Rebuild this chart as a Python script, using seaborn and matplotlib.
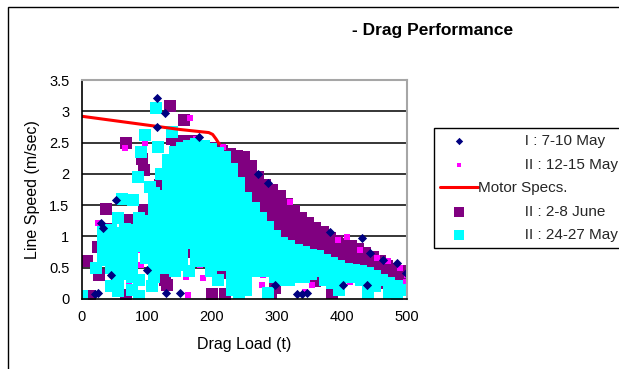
import pandas as pd
import matplotlib
matplotlib.use("Agg")
import matplotlib.pyplot as plt
import seaborn as sns
from matplotlib.patches import Rectangle

# ---- data: (drag load t, line speed m/sec) ----
may_7_10 = [
    (115, 3.21), (128, 2.97), (115, 2.75), (180, 2.59), (52, 1.58), (29, 1.21),
    (32, 1.13), (45, 0.38), (100, 0.47), (20, 0.08), (25, 0.1), (129, 0.1),
    (150, 0.1), (297, 0.22), (331, 0.08), (338, 0.08), (346, 0.1), (271, 2.0),
    (286, 1.85), (381, 1.07), (430, 0.97), (443, 0.73), (463, 0.62), (484, 0.57),
    (498, 0.42), (402, 0.22), (438, 0.22),
]

may_12_15 = [
    (97, 2.49), (66, 2.41), (166, 2.89), (175, 2.55), (217, 2.43), (128, 1.85),
    (25, 1.22), (86, 0.78), (91, 0.55), (72, 0.2), (151, 0.67), (160, 0.35),
    (163, 0.06), (174, 0.59), (182, 0.54), (186, 0.34), (277, 0.22), (278, 0.38),
    (320, 1.55), (343, 0.11), (354, 0.22), (394, 0.94), (407, 0.99), (402, 0.3),
    (412, 0.27), (428, 0.78), (454, 0.65), (470, 0.6), (486, 0.25), (489, 0.5),
    (498, 0.27), (500, 0.38),
]

motor_load = [0, 50, 100, 150, 195, 201, 206, 211]
motor_speed = [2.92, 2.85, 2.78, 2.71, 2.66, 2.63, 2.56, 2.48]

june_2_8 = [
    # scattered
    (135, 3.08), (157, 2.86), (68, 2.5), (139, 2.55), (152, 2.52), (168, 2.52),
    (145, 2.42), (92, 2.23), (95, 2.06), (120, 1.82), (37, 1.44), (40, 1.12),
    (72, 1.27), (82, 1.25), (95, 1.42), (25, 0.83), (7, 0.6), (26, 0.38),
    (12, 0.05), (68, 0.06), (127, 0.3), (130, 0.22), (166, 0.75), (215, 0.42),
    (200, 0.08), (220, 0.08), (290, 0.1), (297, 0.18), (358, 0.28), (385, 0.1),
    # upper band
    (205, 2.38), (205, 2.42),
    (216, 2.28), (216, 2.37),
    (227, 2.1), (227, 2.25), (227, 2.32),
    (238, 1.9), (238, 2.05), (238, 2.2), (238, 2.28),
    (249, 1.7), (249, 1.85), (249, 2.0), (249, 2.15), (249, 2.27),
    (260, 1.5), (260, 1.65), (260, 1.8), (260, 1.95), (260, 2.12),
    (271, 1.35), (271, 1.5), (271, 1.65), (271, 1.8), (271, 1.95),
    (282, 1.15), (282, 1.3), (282, 1.45), (282, 1.6), (282, 1.75), (282, 1.82),
    (293, 1.0), (293, 1.15), (293, 1.3), (293, 1.45), (293, 1.6), (293, 1.74),
    (304, 0.9), (304, 1.05), (304, 1.2), (304, 1.35), (304, 1.5), (304, 1.64),
    (315, 0.8), (315, 0.95), (315, 1.1), (315, 1.25), (315, 1.4), (315, 1.52),
    (326, 0.75), (326, 0.9), (326, 1.05), (326, 1.2), (326, 1.32), (326, 1.4),
    (337, 0.7), (337, 0.85), (337, 1.0), (337, 1.15), (337, 1.29),
    (348, 0.65), (348, 0.8), (348, 0.95), (348, 1.1), (348, 1.22),
    (359, 0.6), (359, 0.75), (359, 0.9), (359, 1.05), (359, 1.14),
    (370, 0.55), (370, 0.7), (370, 0.85), (370, 1.0), (370, 1.07),
    (381, 0.5), (381, 0.65), (381, 0.8), (381, 0.98),
    (392, 0.45), (392, 0.6), (392, 0.75), (392, 0.92),
    (403, 0.45), (403, 0.6), (403, 0.75), (403, 0.88),
    (414, 0.4), (414, 0.55), (414, 0.7), (414, 0.84),
    (425, 0.4), (425, 0.55), (425, 0.7), (425, 0.8),
    (436, 0.35), (436, 0.5), (436, 0.65), (436, 0.74),
    (447, 0.3), (447, 0.45), (447, 0.6), (447, 0.67),
    (458, 0.3), (458, 0.45), (458, 0.6),
    (469, 0.25), (469, 0.4), (469, 0.53),
    (480, 0.2), (480, 0.35), (480, 0.48),
    (491, 0.2), (491, 0.32), (491, 0.44),
]

may_24_27 = [
    # scattered upper left
    (114, 3.05), (97, 2.62), (91, 2.35), (86, 1.95), (117, 2.43), (138, 2.67),
    (105, 1.79), (62, 1.6), (78, 1.58),
    # left cluster
    (0, 0.05), (22, 0.5),
    (33, 0.62), (33, 0.77), (33, 0.92), (33, 1.07),
    (44, 0.2), (44, 0.5), (44, 0.65), (44, 0.8), (44, 0.95), (44, 1.1),
    (55, 0.12), (55, 0.3), (55, 0.45), (55, 0.6), (55, 0.75), (55, 0.9), (55, 1.05), (55, 1.3),
    (66, 0.4), (66, 0.55), (66, 0.7), (66, 0.85), (66, 1.0), (66, 1.12),
    (77, 0.15), (77, 0.35), (77, 0.5), (77, 0.65), (77, 0.8), (77, 0.95), (77, 1.1),
    (88, 0.05), (88, 0.3), (88, 0.85), (88, 1.0), (88, 1.15), (88, 1.3),
    (99, 0.65), (99, 0.8), (99, 0.95), (99, 1.1), (99, 1.25), (108, 0.2),
    # main mass
    (110, 0.35), (110, 0.5), (110, 0.65), (110, 0.8), (110, 0.95), (110, 1.1), (110, 1.25), (110, 1.4), (110, 1.55), (110, 1.7),
    (121, 0.5), (121, 0.65), (121, 0.8), (121, 0.95), (121, 1.1), (121, 1.25), (121, 1.4), (121, 1.55), (121, 1.65), (121, 2.0),
    (132, 0.5), (132, 0.65), (132, 0.8), (132, 0.95), (132, 1.1), (132, 1.25), (132, 1.4), (132, 1.55), (132, 1.7), (132, 1.85), (132, 2.0), (132, 2.15), (132, 2.22),
    (143, 0.45), (143, 0.6), (143, 0.75), (143, 0.9), (143, 1.05), (143, 1.2), (143, 1.35), (143, 1.5), (143, 1.65), (143, 1.8), (143, 1.95), (143, 2.1), (143, 2.25), (143, 2.35),
    (154, 0.55), (154, 0.7), (154, 0.85), (154, 1.0), (154, 1.15), (154, 1.3), (154, 1.45), (154, 1.6), (154, 1.75), (154, 1.9), (154, 2.05), (154, 2.2), (154, 2.35), (154, 2.42),
    (165, 0.45), (165, 0.9), (165, 1.05), (165, 1.2), (165, 1.35), (165, 1.5), (165, 1.65), (165, 1.8), (165, 1.95), (165, 2.1), (165, 2.25), (165, 2.4), (165, 2.45),
    (176, 0.6), (176, 0.75), (176, 0.9), (176, 1.05), (176, 1.2), (176, 1.35), (176, 1.5), (176, 1.65), (176, 1.8), (176, 1.95), (176, 2.1), (176, 2.25), (176, 2.4), (176, 2.47),
    (187, 0.6), (187, 0.75), (187, 0.9), (187, 1.05), (187, 1.2), (187, 1.35), (187, 1.5), (187, 1.65), (187, 1.8), (187, 1.95), (187, 2.1), (187, 2.25), (187, 2.4), (187, 2.45),
    (198, 0.45), (198, 0.6), (198, 0.75), (198, 0.9), (198, 1.05), (198, 1.2), (198, 1.35), (198, 1.5), (198, 1.65), (198, 1.8), (198, 1.95), (198, 2.1), (198, 2.25), (198, 2.4),
    (209, 0.3), (209, 0.55), (209, 0.7), (209, 0.85), (209, 1.0), (209, 1.15), (209, 1.3), (209, 1.45), (209, 1.6), (209, 1.75), (209, 1.9), (209, 2.05), (209, 2.2), (209, 2.34),
    (220, 0.55), (220, 0.7), (220, 0.85), (220, 1.0), (220, 1.15), (220, 1.3), (220, 1.45), (220, 1.6), (220, 1.75), (220, 1.9), (220, 2.05), (220, 2.2), (220, 2.27),
    (231, 0.15), (231, 0.3), (231, 0.45), (231, 0.6), (231, 0.75), (231, 0.9), (231, 1.05), (231, 1.2), (231, 1.35), (231, 1.5), (231, 1.65), (231, 1.8), (231, 1.95), (231, 2.08),
    (242, 0.1), (242, 0.25), (242, 0.4), (242, 0.55), (242, 0.7), (242, 0.85), (242, 1.0), (242, 1.15), (242, 1.3), (242, 1.45), (242, 1.6), (242, 1.75), (242, 1.85),
    (253, 0.15), (253, 0.3), (253, 0.45), (253, 0.6), (253, 0.75), (253, 0.9), (253, 1.05), (253, 1.2), (253, 1.35), (253, 1.5), (253, 1.62),
    (264, 0.45), (264, 0.6), (264, 0.75), (264, 0.9), (264, 1.05), (264, 1.2), (264, 1.35), (264, 1.45),
    (275, 0.45), (275, 0.6), (275, 0.75), (275, 0.9), (275, 1.05), (275, 1.2), (275, 1.3),
    (286, 0.1), (286, 0.45), (286, 0.6), (286, 0.75), (286, 0.9), (286, 1.05), (286, 1.15),
    (297, 0.35), (297, 0.5), (297, 0.65), (297, 0.8), (297, 0.95), (297, 1.0),
    (308, 0.3), (308, 0.45), (308, 0.6), (308, 0.75), (308, 0.9),
    (319, 0.3), (319, 0.45), (319, 0.6), (319, 0.75), (319, 0.85),
    (330, 0.35), (330, 0.5), (330, 0.65), (330, 0.78),
    (341, 0.35), (341, 0.5), (341, 0.65), (341, 0.75),
    (352, 0.4), (352, 0.55), (352, 0.7),
    (363, 0.45), (363, 0.6), (363, 0.68),
    (374, 0.3), (374, 0.45), (374, 0.6), (374, 0.63),
    (385, 0.25), (385, 0.4), (385, 0.55), (385, 0.58),
    (396, 0.15), (396, 0.3), (396, 0.45), (396, 0.52),
    (407, 0.35), (407, 0.48),
    (418, 0.35), (418, 0.46),
    (429, 0.3), (429, 0.44),
    (440, 0.1), (440, 0.25), (440, 0.42),
    (451, 0.2), (451, 0.37),
    (462, 0.3),
    (473, 0.1), (473, 0.25),
    (484, 0.05), (484, 0.2),
    (495, 0.15),
]

x_ticks = [0, 100, 200, 300, 400, 500]
y_ticks = [0, 0.5, 1, 1.5, 2, 2.5, 3, 3.5]
y_ticklabels = ["0", "0.5", "1", "1.5", "2", "2.5", "3", "3.5"]

sns.set_style("white")
plt.rcParams["font.family"] = ["Liberation Sans", "DejaVu Sans"]

W, H = 619, 369
fig = plt.figure(figsize=(W / 100, H / 100), dpi=100)
ax = fig.add_axes([82 / W, 1 - 299 / H, 325 / W, 219 / H])

# horizontal gridlines kept underneath every series
for yv in y_ticks[1:-1]:
    ax.axhline(yv, color="black", linewidth=1.1, zorder=0.5)

cols = ["load", "speed"]
big = 66
sns.scatterplot(data=pd.DataFrame(june_2_8, columns=cols), x="load", y="speed", ax=ax,
                marker="s", s=big, color="#800080", linewidth=0, zorder=2, label="II : 2-8 June")
sns.scatterplot(data=pd.DataFrame(may_12_15, columns=cols), x="load", y="speed", ax=ax,
                marker="s", s=17, color="#ff00ff", linewidth=0, zorder=3, label="II : 12-15 May")
sns.scatterplot(data=pd.DataFrame(may_24_27, columns=cols), x="load", y="speed", ax=ax,
                marker="s", s=big, color="#00ffff", linewidth=0, zorder=4, label="II : 24-27 May")
sns.lineplot(x=motor_load, y=motor_speed, ax=ax, color="#ff0000", linewidth=2.2,
             zorder=5, label="Motor Specs.")
sns.scatterplot(data=pd.DataFrame(may_7_10, columns=cols), x="load", y="speed", ax=ax,
                marker="D", s=22, color="#000080", linewidth=0, zorder=6, label="I : 7-10 May")

ax.set_xlim(0, 500)
ax.set_ylim(0, 3.5)
ax.set_xticks(x_ticks)
ax.set_xticklabels([str(t) for t in x_ticks])
ax.set_yticks(y_ticks)
ax.set_yticklabels(y_ticklabels)
ax.tick_params(axis="both", direction="out", length=4, width=1, color="black",
               labelsize=10.5, labelcolor="black")
ax.tick_params(axis="y", pad=5)
ax.tick_params(axis="x", pad=4)
ax.grid(False)

for side in ["left", "bottom"]:
    ax.spines[side].set_color("black")
    ax.spines[side].set_linewidth(1.2)
for side in ["top", "right"]:
    ax.spines[side].set_color("#a6a6a6")
    ax.spines[side].set_linewidth(1.5)
for sp in ax.spines.values():
    sp.set_zorder(10)

ax.set_xlabel("Drag Load (t)", fontsize=11.5, color="black")
ax.set_ylabel("Line Speed (m/sec)", fontsize=11.5, color="black")
ax.xaxis.set_label_coords(0.5, -0.175)
ax.yaxis.set_label_coords(-0.13, 0.5)

fig.text(433 / W, 1 - 31 / H, "- Drag Performance", ha="center", va="center",
         fontsize=12.5, fontweight="bold", color="black")

handles, labels = ax.get_legend_handles_labels()
lookup = dict(zip(labels, handles))
order = ["I : 7-10 May", "II : 12-15 May", "Motor Specs.", "II : 2-8 June", "II : 24-27 May"]
gap = " " * 11
leg = ax.legend([lookup[k] for k in order],
                [k if k == "Motor Specs." else gap + k for k in order],
                loc="upper left", bbox_to_anchor=(434 / W, 1 - 128 / H),
                bbox_transform=fig.transFigure, borderaxespad=0, frameon=True,
                fancybox=False, framealpha=1, edgecolor="black", fontsize=11,
                handlelength=2.5, handletextpad=0, labelspacing=0.62, borderpad=0.4,
                markerscale=0.8)
leg.get_frame().set_linewidth(1)

fig.add_artist(Rectangle((8 / W, -0.1), 1.2, 1.1 - 7 / H, transform=fig.transFigure,
                         fill=False, edgecolor="black", linewidth=1))

fig.savefig("out.png", dpi=100)
